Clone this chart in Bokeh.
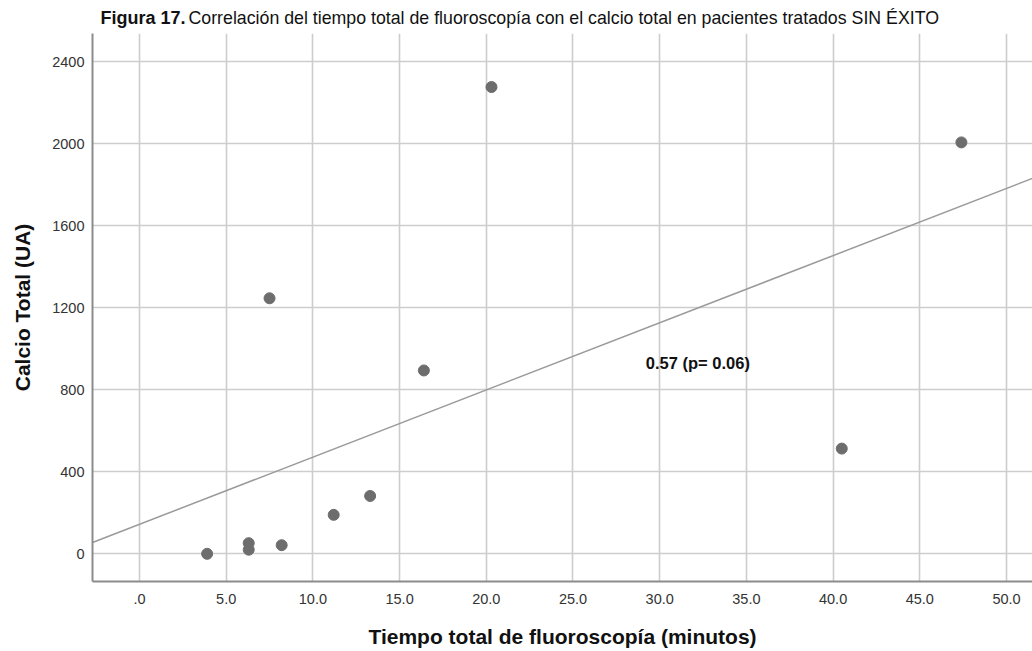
import numpy as np
from bokeh.plotting import figure
from bokeh.layouts import column
from bokeh.models import Range1d, FixedTicker, Label
from bokeh.core.properties import value
from bokeh.embed import file_html
from bokeh.resources import INLINE

# Total fluoroscopy time (minutes) and total calcium (UA), unsuccessful cases
tiempo = [3.9, 6.3, 6.3, 8.2, 7.5, 11.2, 13.3, 16.4, 20.3, 40.5, 47.4]
calcio = [0, 52, 20, 42, 1246, 190, 282, 894, 2276, 513, 2006]

x_ticks = [0, 5, 10, 15, 20, 25, 30, 35, 40, 45, 50]
x_tick_labels = [".0", "5.0", "10.0", "15.0", "20.0", "25.0", "30.0",
                 "35.0", "40.0", "45.0", "50.0"]
y_ticks = [0, 400, 800, 1200, 1600, 2000, 2400]

corr_text = "0.57 (p= 0.06)"
corr_pos = (32.2, 930)

cap_bold = "Figura 17."
cap_rest = "Correlación del tiempo total de fluoroscopía con el calcio total en pacientes tratados SIN ÉXITO"

FONT = "Liberation Sans"
W, H = 1032, 651
CAP_H = 33
LEFT, RIGHT, BOTTOM = 92, 0, 70

# ---- caption strip (frame is aligned with the plot frame below, so its
# x range is expressed in canvas pixels starting at the frame's left edge)
cap = figure(width=W, height=CAP_H, x_range=Range1d(LEFT, W - RIGHT),
             y_range=Range1d(0, CAP_H),
             output_backend="svg", toolbar_location=None,
             min_border_left=LEFT, min_border_right=RIGHT,
             min_border_top=0, min_border_bottom=0, outline_line_color=None)
cap.axis.visible = False
cap.grid.visible = False
cap.text(x=[100], y=[16], text=[cap_bold], text_font=value(FONT),
         text_font_style="bold", text_font_size="18px", text_color="#111111",
         text_align="left", text_baseline="alphabetic")
cap.text(x=[188], y=[16], text=[cap_rest], text_font=value(FONT),
         text_font_size="17.75px", text_color="#111111",
         text_align="left", text_baseline="alphabetic")

# ---- scatter plot --------------------------------------------------------
x_range = Range1d(-2.71, 51.5)
y_range = Range1d(-135, 2537)

p = figure(width=W, height=H - CAP_H, x_range=x_range, y_range=y_range,
           output_backend="svg", toolbar_location=None,
           min_border_left=LEFT, min_border_right=RIGHT,
           min_border_top=0, min_border_bottom=BOTTOM)
p.outline_line_color = None

for g in (p.xgrid, p.ygrid):
    g.grid_line_color = "#cdcdcd"
    g.grid_line_width = 1.6
p.xgrid.ticker = FixedTicker(ticks=x_ticks)
p.ygrid.ticker = FixedTicker(ticks=y_ticks)

for ax in (p.xaxis, p.yaxis):
    ax.axis_line_color = "#8c8c8c"
    ax.axis_line_width = 2
    ax.major_tick_line_color = None
    ax.minor_tick_line_color = None
    ax.major_label_text_font = FONT
    ax.major_label_text_font_size = "14.5px"
    ax.major_label_text_color = "#333333"
    ax.axis_label_text_font = FONT
    ax.axis_label_text_font_style = "bold"
    ax.axis_label_text_font_size = "21px"
    ax.axis_label_text_color = "#111111"

p.xaxis.ticker = FixedTicker(ticks=x_ticks)
p.xaxis.major_label_overrides = {t: s for t, s in zip(x_ticks, x_tick_labels)}
p.xaxis.major_label_standoff = 6
p.xaxis.axis_label = "Tiempo total de fluoroscopía (minutos)"
p.xaxis.axis_label_standoff = 18

p.yaxis.ticker = FixedTicker(ticks=y_ticks)
p.yaxis.major_label_standoff = 2
p.yaxis.axis_label = "Calcio Total (UA)"
p.yaxis.axis_label_standoff = 15

# least-squares fit line across the whole frame
slope, intercept = np.polyfit(tiempo, calcio, 1)
xs = np.array([x_range.start, x_range.end])
p.line(xs, slope * xs + intercept, line_color="#9a9a9a", line_width=1.5)

p.scatter(tiempo, calcio, size=11, fill_color="#6d6d6d", line_color="#6d6d6d")

p.add_layout(Label(x=corr_pos[0], y=corr_pos[1], text=corr_text,
                   text_font=FONT, text_font_style="bold",
                   text_font_size="16.5px", text_color="#111111",
                   text_align="center", text_baseline="middle"))

layout = column(cap, p, spacing=0)
open("out.html", "w").write(file_html(layout, INLINE))
